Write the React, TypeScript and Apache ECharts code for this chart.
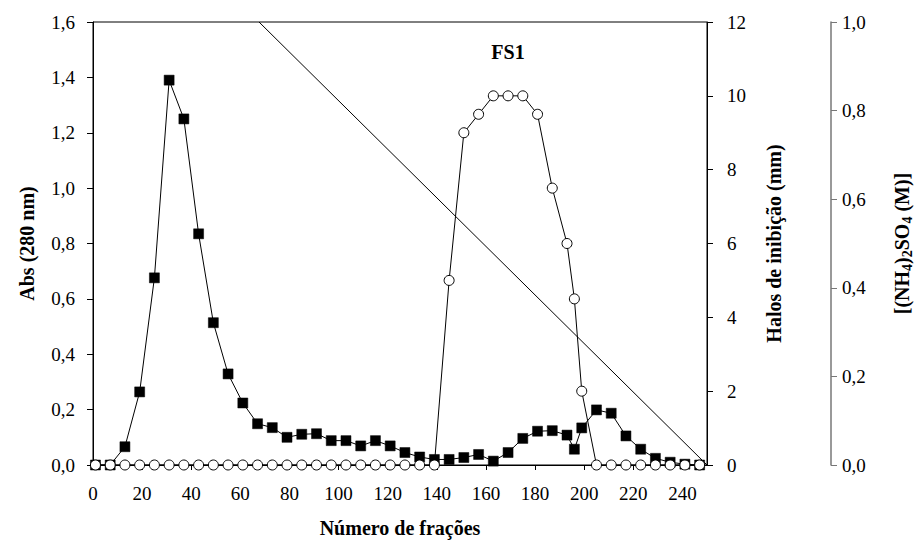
import React, { useEffect, useRef } from "react";
import * as echarts from "echarts";

const fractions = [1, 7, 13, 19, 25, 31, 37, 43, 49, 55, 61, 67, 73, 79, 85, 91, 97, 103, 109, 115, 121, 127, 133, 139, 145, 151, 157, 163, 169, 175, 181, 187, 193, 196, 199, 205, 211, 217, 223, 229, 235, 241, 247];
const absValues = [0, 0, 0.066, 0.264, 0.676, 1.39, 1.25, 0.835, 0.514, 0.329, 0.224, 0.149, 0.135, 0.1, 0.111, 0.113, 0.088, 0.088, 0.069, 0.088, 0.069, 0.045, 0.029, 0.02, 0.02, 0.027, 0.038, 0.014, 0.045, 0.096, 0.122, 0.124, 0.108, 0.057, 0.134, 0.199, 0.187, 0.105, 0.057, 0.024, 0.01, 0.003, 0];
const haloValues = [0, 0, 0, 0, 0, 0, 0, 0, 0, 0, 0, 0, 0, 0, 0, 0, 0, 0, 0, 0, 0, 0, 0, 0, 5, 9, 9.5, 10, 10, 10, 9.5, 7.5, 6, 4.5, 2, 0, 0, 0, 0, 0, 0, 0, 0];
const gradientX = [67.6, 250];
const gradientM = [1.0, 0];

const FONT = "'Liberation Serif', 'Times New Roman', serif";
const fmt = (v: number) => v.toFixed(1).replace(".", ",");

export default function App() {
  const ref = useRef<HTMLDivElement>(null);
  useEffect(() => {
    if (!ref.current) return;
    const chart = echarts.init(ref.current, null, { renderer: "svg" });
    const labelStyle = { fontFamily: FONT, fontSize: 19, color: "#000" };
    const nameStyle = { fontFamily: FONT, fontSize: 20, fontWeight: "bold" as const, color: "#000" };
    chart.setOption({
      animation: false,
      backgroundColor: "#fff",
      grid: { left: 93, right: 208, top: 22, bottom: 82, show: true, borderColor: "#000", borderWidth: 1, backgroundColor: "transparent", outerBoundsMode: "none", containLabel: false },
      graphic: [
        { type: "text", x: 508, y: 52, style: { text: "FS1", fontFamily: FONT, fontSize: 20, fontWeight: "bold", fill: "#000", align: "center", verticalAlign: "middle" } },
      ],
      xAxis: {
        type: "value", min: 0, max: 250, interval: 20,
        name: "Número de frações", nameLocation: "middle", nameGap: 53, nameTextStyle: nameStyle,
        axisLine: { lineStyle: { color: "#000", width: 1 } },
        axisTick: { inside: false, length: 5, lineStyle: { color: "#000" } },
        axisLabel: { ...labelStyle, margin: 19, showMaxLabel: false },
        splitLine: { show: false },
      },
      yAxis: [
        {
          type: "value", min: 0, max: 1.6, interval: 0.2, position: "left",
          name: "Abs (280 nm)", nameLocation: "middle", nameGap: 56, nameRotate: 90, nameTextStyle: nameStyle,
          axisLine: { show: true, lineStyle: { color: "#000", width: 1 } },
          axisTick: { show: true, length: 6, lineStyle: { color: "#000" } },
          axisLabel: { ...labelStyle, margin: 18, formatter: fmt },
          splitLine: { show: false },
        },
        {
          type: "value", min: 0, max: 12, interval: 2, position: "right",
          name: "Halos de inibição (mm)", nameLocation: "middle", nameGap: 57, nameRotate: 90, nameTextStyle: nameStyle,
          axisLine: { show: true, lineStyle: { color: "#000", width: 1 } },
          axisTick: { show: true, length: 6, lineStyle: { color: "#000" } },
          axisLabel: { ...labelStyle, margin: 20 },
          splitLine: { show: false },
        },
        {
          type: "value", min: 0, max: 1.0, interval: 0.2, position: "right", offset: 124,
          name: "{a|[(NH}{s|4}{a|)}{s|2}{a|SO}{s|4}{a| (M)]}", nameLocation: "middle", nameGap: 59, nameRotate: 90,
          nameTextStyle: {
            ...nameStyle,
            rich: {
              a: { fontFamily: FONT, fontSize: 20, fontWeight: "bold", color: "#000" },
              s: { fontFamily: FONT, fontSize: 14, fontWeight: "bold", color: "#000", verticalAlign: "bottom", padding: [10, 0, 0, 0] },
            },
          },
          axisLine: { show: true, lineStyle: { color: "#777", width: 1.5 } },
          axisTick: { show: true, length: 6, lineStyle: { color: "#777" } },
          axisLabel: { ...labelStyle, margin: 11, formatter: fmt },
          splitLine: { show: false },
        },
      ],
      series: [
        {
          type: "line", yAxisIndex: 2, symbol: "none", silent: true,
          lineStyle: { color: "#000", width: 1 },
          data: gradientX.map((x, i) => [x, gradientM[i]]),
          z: 1,
        },
        {
          type: "line", yAxisIndex: 0, symbol: "rect", symbolSize: 10,
          lineStyle: { color: "#000", width: 1 },
          itemStyle: { color: "#000", borderColor: "#000", borderWidth: 0.5 },
          data: fractions.map((x, i) => [x, absValues[i]]),
          z: 2,
        },
        {
          type: "line", yAxisIndex: 1, symbol: "circle", symbolSize: 10, showAllSymbol: true,
          lineStyle: { color: "#000", width: 1 },
          itemStyle: { color: "#fff", borderColor: "#000", borderWidth: 1 },
          data: fractions.map((x, i) => [x, haloValues[i]]),
          z: 3,
        },
      ],
    });
    return () => chart.dispose();
  }, []);
  return <div ref={ref} style={{ position: "fixed", left: 0, top: 0, width: 915, height: 547 }} />;
}
